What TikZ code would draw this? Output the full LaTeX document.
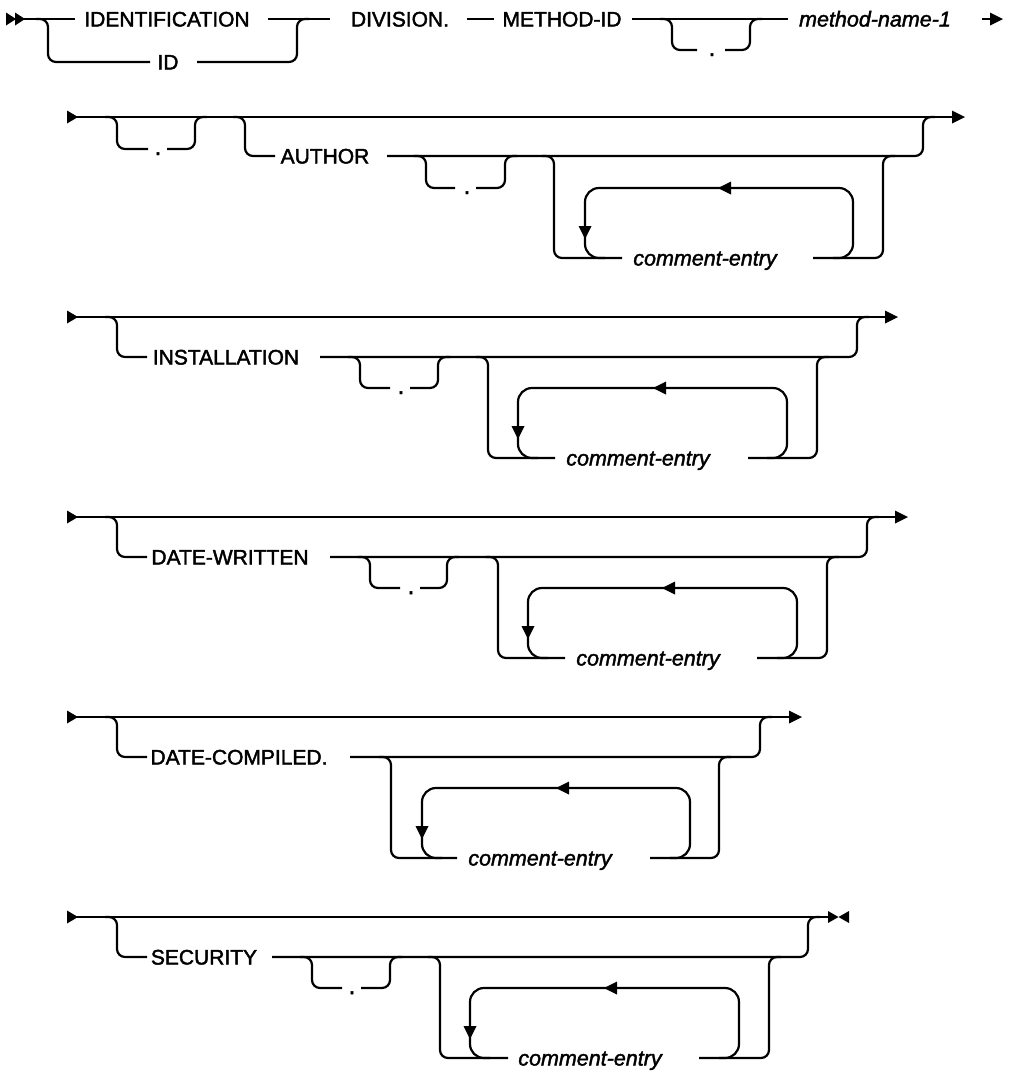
\documentclass[tikz,border=0pt]{standalone}
\usepackage{fontspec}
\setmainfont{Liberation Sans}
\newfontfamily\kwf{Liberation Sans}[FakeBold=2]
\newfontfamily\varf{Liberation Sans Italic}[FakeBold=1.8]
\newcommand\rrArrR[2]{\fill (#1-13,#2-6.5) -- (#1,#2) -- (#1-13,#2+6.5) -- cycle;}
\newcommand\rrArrL[2]{\fill (#1+13,#2-6.5) -- (#1,#2) -- (#1+13,#2+6.5) -- cycle;}
\newcommand\rrArrD[2]{\fill (#1-6.5,#2-13) -- (#1,#2) -- (#1+6.5,#2-13) -- cycle;}
\begin{document}
\begin{tikzpicture}[x=1pt,y=-1pt,line width=2.2pt,
  rr/.style={draw,rounded corners=8pt},
  lp/.style={draw,rounded corners=14pt},
  kw/.style={anchor=base,inner sep=0pt,font=\kwf\fontsize{21}{25}\selectfont},
  dotn/.style={anchor=base,inner sep=0pt,font=\kwf\fontsize{24}{25}\selectfont},
  var/.style={anchor=base,inner sep=0pt,font=\varf\fontsize{21.5}{25}\selectfont}]
\useasboundingbox (0,0) rectangle (1019,1072);

% ---------- Row 1 ----------
\fill (6,12.5) -- (16,19) -- (6,25.5) -- cycle;
\fill (15,12.5) -- (25,19) -- (15,25.5) -- cycle;
\node[kw] (ident) at (167,26.5) {IDENTIFICATION};
\node[kw] (idk) at (168,69.5) {ID};
\node[kw] (div) at (400,26.5) {DIVISION.};
\node[kw] (mid) at (562,26.5) {METHOD-ID};
\node[var] (mn1) at (875,26.5) {method-name-1};
\node[dotn] (d1) at (712,56) {.};
\draw (20,19) -- (75,19);
\draw (268,19) -- (330,19);
\draw (467,19) -- (494,19);
\draw (632,19) -- (788,19);
\draw (982,19) -- (992,19);
\rrArrR{1003}{19}
\draw[rr] (36,19) -- (48,19) -- (48,62) -- (150,62);
\draw[rr] (197,62) -- (297,62) -- (297,19) -- (309,19);
\draw[rr] (660,19) -- (672,19) -- (672,50) -- (697,50);
\draw[rr] (725,50) -- (750,50) -- (750,19) -- (762,19);

% ---------- Row 2 ----------
\fill (67,110.5) -- (78,117) -- (67,123.5) -- cycle;
\draw (75,117) -- (953,117);
\rrArrR{965}{117}
\draw[rr] (105,117) -- (117,117) -- (117,149) -- (148,149);
\node[dotn] (d2a) at (158,155) {.};
\draw[rr] (167,149) -- (195,149) -- (195,117) -- (207,117);
\draw[rr] (233,117) -- (245,117) -- (245,156) -- (275,156);
\node[kw] (author) at (325,163.5) {AUTHOR};
\draw[rr] (387,156) -- (923,156) -- (923,117) -- (935,117);
\draw[rr] (414,156) -- (426,156) -- (426,188) -- (455,188);
\node[dotn] (d2b) at (467,194) {.};
\draw[rr] (476,188) -- (505,188) -- (505,156) -- (517,156);
\draw[rr] (542,156) -- (554,156) -- (554,258) -- (622,258);
\node[var] (ce2) at (705,265.5) {comment-entry};
\draw[rr] (813,258) -- (883,258) -- (883,156) -- (895,156);
\draw[lp] (833,258) -- (853,258) -- (853,188) -- (585,188) -- (585,258) -- (605,258);
\rrArrL{718}{188}
\rrArrD{585}{239}

% ---------- Row 3 ----------
\fill (67,310.5) -- (78,317) -- (67,323.5) -- cycle;
\draw (75,317) -- (886,317);
\rrArrR{898}{317}
\draw[rr] (105,317) -- (117,317) -- (117,357) -- (147,357);
\node[kw] (inst) at (226,364.5) {INSTALLATION};
\draw[rr] (320,357) -- (857,357) -- (857,317) -- (869,317);
\draw[rr] (348,357) -- (360,357) -- (360,388) -- (390,388);
\node[dotn] (d3) at (401,394) {.};
\draw[rr] (410,388) -- (438,388) -- (438,357) -- (450,357);
\draw[rr] (476,357) -- (488,357) -- (488,458) -- (555,458);
\node[var] (ce3) at (638,465.5) {comment-entry};
\draw[rr] (748,458) -- (817,458) -- (817,357) -- (829,357);
\draw[lp] (767,458) -- (787,458) -- (787,388) -- (518,388) -- (518,458) -- (538,458);
\rrArrL{653}{388}
\rrArrD{518}{439}

% ---------- Row 4 ----------
\fill (67,510.5) -- (78,517) -- (67,523.5) -- cycle;
\draw (75,517) -- (896,517);
\rrArrR{908}{517}
\draw[rr] (105,517) -- (117,517) -- (117,557) -- (147,557);
\node[kw] (dw) at (230,564.5) {DATE-WRITTEN};
\draw[rr] (330,557) -- (867,557) -- (867,517) -- (879,517);
\draw[rr] (358,557) -- (370,557) -- (370,588) -- (400,588);
\node[dotn] (d4) at (411,594) {.};
\draw[rr] (420,588) -- (447,588) -- (447,557) -- (459,557);
\draw[rr] (486,557) -- (498,557) -- (498,658) -- (565,658);
\node[var] (ce4) at (648,665.5) {comment-entry};
\draw[rr] (757,658) -- (827,658) -- (827,557) -- (839,557);
\draw[lp] (777,658) -- (797,658) -- (797,588) -- (528,588) -- (528,658) -- (548,658);
\rrArrL{662}{588}
\rrArrD{528}{639}

% ---------- Row 5 ----------
\fill (67,710.5) -- (78,717) -- (67,723.5) -- cycle;
\draw (75,717) -- (790,717);
\rrArrR{802}{717}
\draw[rr] (105,717) -- (117,717) -- (117,757) -- (147,757);
\node[kw] (dc) at (239,764.5) {DATE-COMPILED.};
\draw[rr] (350,757) -- (760,757) -- (760,717) -- (772,717);
\draw[rr] (379,757) -- (391,757) -- (391,858) -- (457,858);
\node[var] (ce5) at (540,865.5) {comment-entry};
\draw[rr] (650,858) -- (719,858) -- (719,757) -- (731,757);
\draw[lp] (670,858) -- (690,858) -- (690,788) -- (422,788) -- (422,858) -- (442,858);
\rrArrL{556}{788}
\rrArrD{422}{839}

% ---------- Row 6 ----------
\fill (67,910.5) -- (78,917) -- (67,923.5) -- cycle;
\draw (75,917) -- (830,917);
\fill (828,911) -- (838.5,917) -- (828,923) -- cycle;
\fill (849,911) -- (838.5,917) -- (849,923) -- cycle;
\draw[rr] (105,917) -- (117,917) -- (117,957) -- (147,957);
\node[kw] (sec) at (204,964.5) {SECURITY};
\draw[rr] (272,957) -- (808,957) -- (808,917) -- (820,917);
\draw[rr] (300,957) -- (312,957) -- (312,988) -- (342,988);
\node[dotn] (d6) at (352,994) {.};
\draw[rr] (361,988) -- (390,988) -- (390,957) -- (402,957);
\draw[rr] (428,957) -- (440,957) -- (440,1058) -- (508,1058);
\node[var] (ce6) at (590,1065.5) {comment-entry};
\draw[rr] (699,1058) -- (769,1058) -- (769,957) -- (781,957);
\draw[lp] (719,1058) -- (739,1058) -- (739,988) -- (470,988) -- (470,1058) -- (490,1058);
\rrArrL{604}{988}
\rrArrD{470}{1039}
\end{tikzpicture}
\end{document}
